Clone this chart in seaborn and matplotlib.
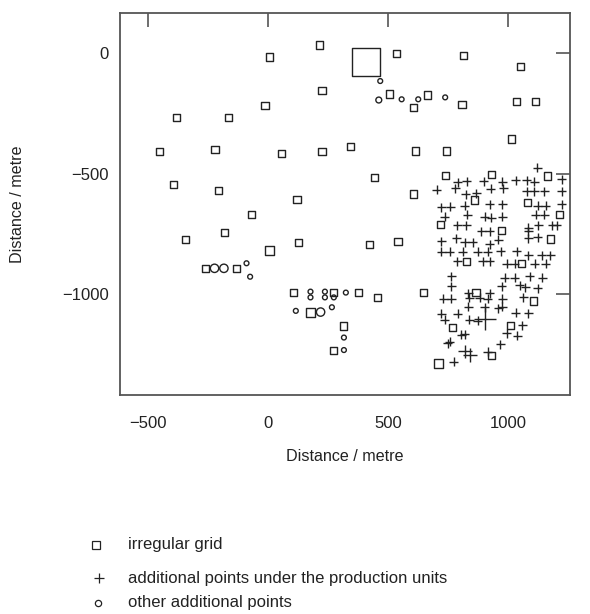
import matplotlib
matplotlib.use("Agg")
import matplotlib.pyplot as plt
from matplotlib.lines import Line2D
import seaborn as sns
import pandas as pd

# Irregular grid points (x, y in metres) and marker size class
grid_x = [213, 5, 535, 812, 1049, 407,
          225, -12, 507, 662, 604, 807, 1032, 1111,
          -380, -162, 1012,
          -450, -220, 55, 225, 342, 613, 743,
          -391, -204, 121, 445, 607, 739, 930, 1162, 859, 1080,
          -69, 1211,
          -180, -342, 126, 423, 541, 718, 973, 1174,
          5, 826, 1056,
          -261, -132,
          107, 274, 376, 456, 646, 865, 1103,
          176,
          316, 767, 1007,
          274, 931, 711]
grid_y = [35, -15, 0, -8, -53, -35,
          -154, -216, -169, -173, -226, -212, -202, -200,
          -266, -266, -356,
          -409, -398, -415, -409, -388, -406, -406,
          -546, -570, -606, -517, -585, -508, -505, -510, -610, -622,
          -670, -671,
          -746, -773, -785, -794, -782, -713, -736, -772,
          -819, -864, -875,
          -894, -894,
          -995, -995, -995, -1015, -995, -995, -1030,
          -1076,
          -1134, -1140, -1132,
          -1234, -1258, -1289]
grid_size = [1] * len(grid_x)
grid_size[5] = 3          # large square near the top
grid_size[44] = 2
grid_size[56] = 2
grid_size[62] = 2

# Additional points under the production units
prod_x = [1120,
          790, 827, 897, 974, 1030, 1076, 1107, 1221,
          703, 779, 926, 978,
          822, 866, 1076, 1107, 1149, 1221,
          721, 759, 818, 922, 974, 1121, 1155, 1221,
          735, 829, 901, 929, 974, 1113, 1149,
          787, 825, 1124, 1182, 1200, 1082,
          887, 922, 1082,
          721, 784, 818, 852, 922, 958, 1082, 1121,
          721, 755, 811, 873, 915, 969, 1034, 1082, 1138, 1173,
          787, 894, 922, 992, 1027, 1110, 1155,
          762, 985, 1027, 1089, 1141,
          762, 972, 1048, 1069, 1121,
          728, 762, 832, 838, 880, 922, 915, 974, 1062,
          832, 901, 958, 974,
          721, 790, 1030, 1082,
          735, 838, 873, 1057,
          903,
          804, 818, 992, 1036,
          748, 755, 965,
          820, 840, 915, 773]
prod_y = [-475,
          -536, -531, -531, -534, -527, -527, -534, -523,
          -568, -561, -564, -561,
          -586, -582, -573, -573, -573, -573,
          -640, -638, -634, -628, -628, -634, -634, -628,
          -679, -672, -679, -683, -679, -672, -672,
          -714, -714, -714, -714, -714, -725,
          -740, -740, -740,
          -782, -768, -785, -785, -793, -775, -768, -765,
          -826, -826, -826, -826, -826, -823, -823, -840, -840, -840,
          -865, -865, -865, -876, -876, -876, -876,
          -927, -934, -934, -927, -934,
          -969, -969, -965, -973, -976,
          -1020, -1020, -997, -1017, -1017, -997, -1020, -1020, -1015,
          -1054, -1056, -1060, -1054,
          -1084, -1084, -1079, -1081,
          -1109, -1109, -1112, -1130,
          -1105,
          -1171, -1168, -1164, -1174,
          -1206, -1199, -1210,
          -1240, -1255, -1241, -1282]
prod_size = [1] * len(prod_x)
prod_size[prod_x.index(903)] = 3   # large cross
prod_size[-4] = 2
prod_size[-3] = 2

# Other additional points
other_x = [467, 461, 556, 625, 737,
           -222, -183, -89, -74,
           177, 177, 237, 237, 274, 324,
           116, 219, 266,
           316, 316]
other_y = [-115, -194, -191, -191, -183,
           -894, -894, -873, -929,
           -991, -1015, -991, -1015, -1015, -995,
           -1071, -1076, -1056,
           -1182, -1234]
other_size = [1, 1.5, 1, 1, 1,
              2, 2, 1, 1,
              1, 1, 1, 1, 1, 1,
              1, 2, 1,
              1, 1]

xticks = [-500, 0, 500, 1000]
yticks = [0, -500, -1000]
legend_labels = ["irregular grid",
                 "additional points under the production units",
                 "other additional points"]

sns.set_theme(style="white")
plt.rcParams["font.family"] = ["Liberation Sans", "DejaVu Sans"]

fig = plt.figure(figsize=(5.9, 6.14), dpi=100)
ax = fig.add_axes([120 / 590, 1 - 395 / 614, 450 / 590, 382 / 614])

grid_df = pd.DataFrame({"x": grid_x, "y": grid_y, "s": grid_size})
prod_df = pd.DataFrame({"x": prod_x, "y": prod_y, "s": prod_size})
other_df = pd.DataFrame({"x": other_x, "y": other_y, "s": other_size})

ink = "#222222"
sns.scatterplot(data=grid_df, x="x", y="y", size="s",
                sizes={1: 26, 2: 42, 3: 420}, marker="s",
                facecolor="none", edgecolor=ink, linewidth=1.0,
                legend=False, ax=ax)
sns.scatterplot(data=prod_df, x="x", y="y", size="s",
                sizes={1: 42, 2: 95, 3: 250}, marker="+",
                color=ink, linewidth=1.0,
                legend=False, ax=ax)
sns.scatterplot(data=other_df, x="x", y="y", size="s",
                sizes={1: 12, 1.5: 18, 2: 36}, marker="o",
                facecolor="none", edgecolor=ink, linewidth=1.0,
                legend=False, ax=ax)

ax.set_xlim(-615, 1256)
ax.set_ylim(-1421, 168)
ax.set_xticks(xticks)
ax.set_yticks(yticks)
ax.set_xlabel("Distance / metre", fontsize=11.6, labelpad=13, color=ink)
ax.set_ylabel("Distance / metre", fontsize=11.6, labelpad=27, color=ink)
ax.tick_params(direction="in", length=10, width=1.2, color="#555555",
               top=True, right=True, labelsize=12, labelcolor=ink)
ax.tick_params(axis="x", pad=15)
ax.tick_params(axis="y", pad=8)
for sp in ax.spines.values():
    sp.set_color("#555555")
    sp.set_linewidth(1.3)

# Legend below the axes
rows = [(545, "s", 5.5, 96), (578, "+", 6.5, 99), (603, "o", 4.5, 98)]
for (py, mk, ms, px), lab in zip(rows, legend_labels):
    yf = 1 - py / 614
    fig.add_artist(Line2D([px / 590], [yf], marker=mk, markersize=ms,
                          markerfacecolor="none", markeredgecolor=ink,
                          markeredgewidth=0.9, linestyle="none",
                          transform=fig.transFigure))
    fig.text(128 / 590, yf, lab, fontsize=12, va="center", ha="left",
             color=ink)

fig.savefig("out.png", dpi=100)
